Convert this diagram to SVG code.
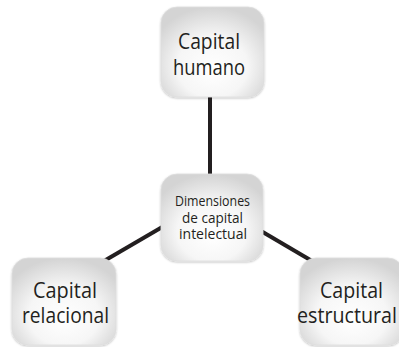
<svg xmlns="http://www.w3.org/2000/svg" width="399" height="347" viewBox="0 0 399 347">
<style>
.box{fill:url(#g);stroke:#dedede;stroke-width:0.8;filter:url(#sh)}
.lbl{font-family:"Open Sans","Liberation Sans",sans-serif;fill:#231f20;text-anchor:middle}
.big{font-size:21.5px}
.small{font-size:14px}
.con{stroke:#231f20;stroke-width:4;fill:none}
</style>
<defs>
<radialGradient id="g" cx="50%" cy="62%" r="62%" fx="50%" fy="72%">
<stop offset="0" stop-color="#ffffff"/>
<stop offset="0.55" stop-color="#f6f6f6"/>
<stop offset="1" stop-color="#d4d4d4"/>
</radialGradient>
<filter id="sh" x="-10%" y="-10%" width="120%" height="125%">
<feGaussianBlur in="SourceAlpha" stdDeviation="1.2"/>
<feOffset dy="1" result="b"/>
<feComponentTransfer><feFuncA type="linear" slope="0.25"/></feComponentTransfer>
<feMerge><feMergeNode/><feMergeNode in="SourceGraphic"/></feMerge>
</filter>
</defs>
<rect width="399" height="347" fill="#ffffff"/>
<g id="connectors">
<line class="con" x1="210" y1="96" x2="210" y2="176"/>
<line class="con" x1="164" y1="226" x2="104" y2="261"/>
<line class="con" x1="261" y1="231" x2="312" y2="261"/>
</g>
<g id="node-humano">
<rect class="box" x="161" y="7" width="103" height="90" rx="16"/>
<text class="lbl big" x="209" y="49" textLength="62" lengthAdjust="spacingAndGlyphs">Capital</text>
<text class="lbl big" x="209" y="75" textLength="72" lengthAdjust="spacingAndGlyphs">humano</text>
</g>
<g id="node-centro">
<rect class="box" x="161" y="174" width="102" height="87" rx="16"/>
<text class="lbl small" x="212.5" y="206" textLength="75" lengthAdjust="spacingAndGlyphs">Dimensiones</text>
<text class="lbl small" x="212.5" y="223" textLength="61" lengthAdjust="spacingAndGlyphs">de capital</text>
<text class="lbl small" x="213" y="239" textLength="68" lengthAdjust="spacingAndGlyphs">intelectual</text>
</g>
<g id="node-relacional">
<rect class="box" x="12" y="258" width="104" height="87" rx="16"/>
<text class="lbl big" x="65" y="298" textLength="64" lengthAdjust="spacingAndGlyphs">Capital</text>
<text class="lbl big" x="65.5" y="323" textLength="87" lengthAdjust="spacingAndGlyphs">relacional</text>
</g>
<g id="node-estructural">
<rect class="box" x="300" y="258" width="104" height="87" rx="16"/>
<text class="lbl big" x="351.5" y="298" textLength="63" lengthAdjust="spacingAndGlyphs">Capital</text>
<text class="lbl big" x="347" y="323" textLength="100" lengthAdjust="spacingAndGlyphs">estructural</text>
</g>
</svg>
